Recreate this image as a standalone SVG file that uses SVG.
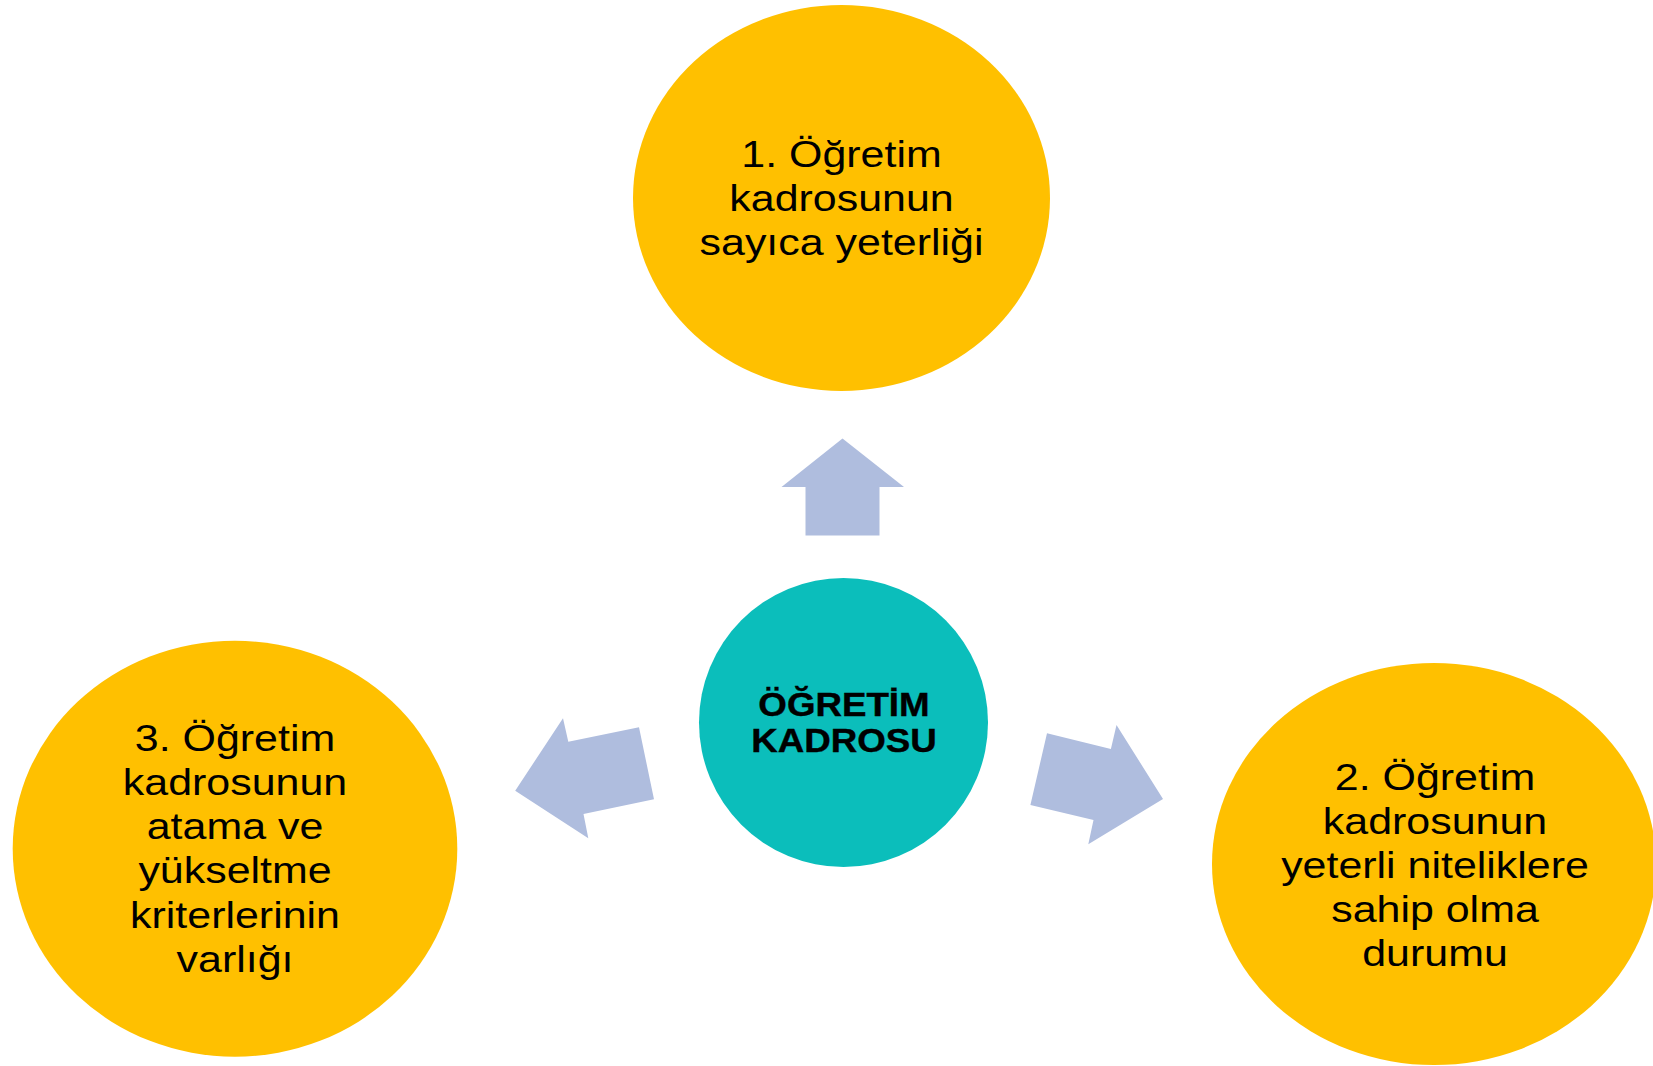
<svg xmlns="http://www.w3.org/2000/svg" width="1653" height="1066" viewBox="0 0 1653 1066">
  <style>
    .bg { fill: #FFFFFF; }
    .outer { fill: #FFC000; }
    .hub { fill: #0BBEBB; }
    .arrow { fill: #AFBDDE; }
    .lbl { font-family: "Liberation Sans", Arial, sans-serif; font-size: 37.5px; fill: #000000; text-anchor: middle; }
    .hubl { font-family: "Liberation Sans", Arial, sans-serif; font-size: 32.5px; font-weight: bold; fill: #000000; text-anchor: middle; stroke: #000000; stroke-width: 0.4px; }
  </style>
  <rect class="bg" x="0" y="0" width="1653" height="1066"/>

  <g id="connectors">
    <polygon class="arrow" points="842.5,438.5 904,487 879.5,487 879.5,535.5 805.5,535.5 805.5,487 781.5,487"/>
    <polygon class="arrow" points="515.2,790.7 563,718.3 568.3,741.7 639,727.3 654,799.3 583.5,814 588.3,838.3"/>
    <polygon class="arrow" points="1047,733.3 1110.9,749 1116.5,725 1163,799 1088.3,844.3 1093.5,820 1030.4,805"/>
  </g>

  <g id="node-1">
    <ellipse class="outer" cx="841.5" cy="198" rx="208.5" ry="193"/>
    <g transform="translate(841.5 0) scale(1.145 1)">
      <text class="lbl" x="0" y="167">1. Öğretim</text>
      <text class="lbl" x="0" y="211">kadrosunun</text>
      <text class="lbl" x="0" y="255">sayıca yeterliği</text>
    </g>
  </g>

  <g id="node-2">
    <ellipse class="outer" cx="1434" cy="864" rx="222" ry="201"/>
    <g transform="translate(1435 0) scale(1.145 1)">
      <text class="lbl" x="0" y="790">2. Öğretim</text>
      <text class="lbl" x="0" y="834">kadrosunun</text>
      <text class="lbl" x="0" y="878.5">yeterli niteliklere</text>
      <text class="lbl" x="0" y="922">sahip olma</text>
      <text class="lbl" x="0" y="966">durumu</text>
    </g>
  </g>

  <g id="node-3">
    <ellipse class="outer" cx="235" cy="848.7" rx="222.3" ry="208"/>
    <g transform="translate(235 0) scale(1.145 1)">
      <text class="lbl" x="0" y="751">3. Öğretim</text>
      <text class="lbl" x="0" y="795">kadrosunun</text>
      <text class="lbl" x="0" y="839">atama ve</text>
      <text class="lbl" x="0" y="883">yükseltme</text>
      <text class="lbl" x="0" y="928">kriterlerinin</text>
      <text class="lbl" x="0" y="972">varlığı</text>
    </g>
  </g>

  <g id="node-center">
    <ellipse class="hub" cx="843.5" cy="722.5" rx="144.5" ry="144.5"/>
    <g transform="translate(844 0) scale(1.13 1)">
      <text class="hubl" x="0" y="716.5">ÖĞRETİM</text>
      <text class="hubl" x="0" y="752.5">KADROSU</text>
    </g>
  </g>
</svg>
